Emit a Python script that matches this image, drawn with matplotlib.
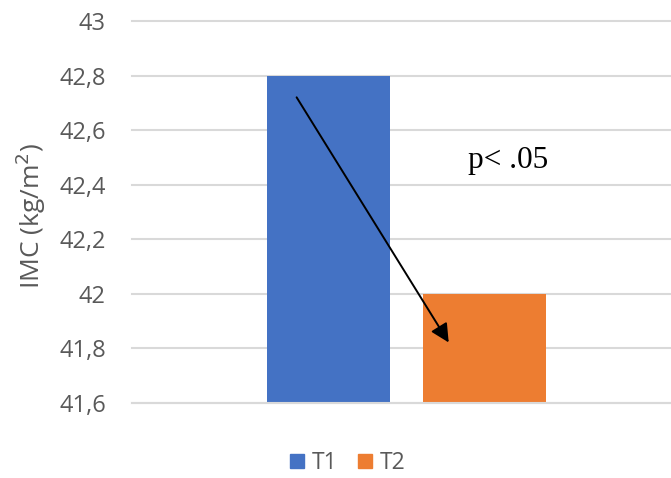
import matplotlib
matplotlib.use('Agg')
import matplotlib.pyplot as plt
from matplotlib.patches import Patch
from matplotlib.ticker import FuncFormatter

# data
groups = ['T1', 'T2']
imc = [42.8, 42.0]
colors = ['#4472C4', '#ED7D31']
yticks = [41.6, 41.8, 42.0, 42.2, 42.4, 42.6, 42.8, 43.0]
pText = 'p< .05'

plt.rcParams['font.family'] = ['Open Sans', 'DejaVu Sans']
grey = '#595959'

fig = plt.figure(figsize=(6.71, 4.78), dpi=100)
ax = fig.add_axes([0.197, 0.157, 0.803, 0.799])

xpos = [0, 1]
ax.bar(xpos, [v - 41.6 for v in imc], bottom=41.6, width=0.79, color=colors, zorder=2)
ax.set_xlim(-1.26, 2.195)
ax.set_ylim(41.6, 43.0)
ax.set_yticks(yticks)
ax.yaxis.set_major_formatter(FuncFormatter(lambda v, p: ('%g' % round(v, 1)).replace('.', ',')))
ax.grid(axis='y', color='#d9d9d9', linewidth=1.5, zorder=0)
for ln in ax.get_ygridlines():
    ln.set_clip_on(False)
ax.set_xticks([])
ax.tick_params(axis='y', length=0, pad=19, labelsize=17, labelcolor=grey)
for s in ['top', 'right', 'left']:
    ax.spines[s].set_visible(False)
ax.spines['bottom'].set_color('#d9d9d9')
ax.spines['bottom'].set_linewidth(1.5)
ax.set_ylabel('IMC (kg/m$^2$)', fontsize=19, color=grey)
ax.yaxis.set_label_coords(-0.157, 0.49)

# arrow T1 -> T2
ax.annotate('', xy=(0.779, 41.813), xytext=(-0.215, 42.729),
            arrowprops=dict(arrowstyle='-|>', color='black', lw=1.4, mutation_scale=28), zorder=3)
ax.text(1.15, 42.49, pText, fontsize=22.5, family='Liberation Serif', ha='center', va='center', zorder=3)

handles = [Patch(color=c, label=g) for g, c in zip(groups, colors)]
leg = fig.legend(handles=handles, loc='center', bbox_to_anchor=(0.518, 0.031), ncol=2, frameon=False,
                 fontsize=16.5, handlelength=0.6, handleheight=0.6, handletextpad=0.35, columnspacing=0.9)
for t in leg.get_texts():
    t.set_color(grey)

fig.savefig('out.png', dpi=100)
